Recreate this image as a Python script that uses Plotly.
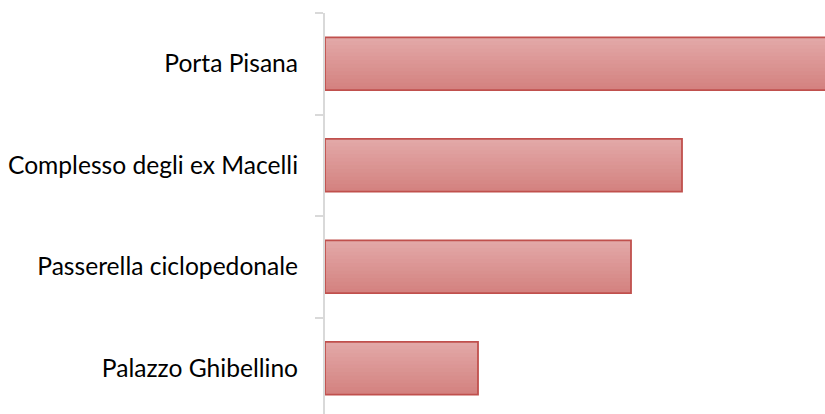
import plotly.graph_objects as go

# Monuments and their counts
categories = ["Porta Pisana", "Complesso degli ex Macelli", "Passerella ciclopedonale", "Palazzo Ghibellino"]
values = [10, 7, 6, 3]

# Vertical gradient stops for the bar fill (top -> bottom)
top_rgb = (226, 168, 167)
bottom_rgb = (212, 130, 128)
n_steps = 14
bar_width = 0.52

fig = go.Figure()

# Layered slices produce a soft top-to-bottom gradient inside each bar
for i in range(n_steps):
    t = i / (n_steps - 1)
    rgb = tuple(round(a + (b - a) * t) for a, b in zip(top_rgb, bottom_rgb))
    start = -bar_width / 2 + i * bar_width / n_steps
    fig.add_trace(go.Bar(
        x=values, y=categories, orientation="h",
        width=bar_width / 2 - start, offset=start,
        marker=dict(color="rgb(%d,%d,%d)" % rgb, line=dict(width=0)),
        hoverinfo="skip", showlegend=False,
    ))

# Outline of each bar
fig.add_trace(go.Bar(
    x=values, y=categories, orientation="h",
    width=bar_width, offset=-bar_width / 2,
    marker=dict(color="rgba(0,0,0,0)", line=dict(color="#c0504d", width=1.8)),
    showlegend=False,
))

W, H = 825, 414
left, top = 325, 13
band = 101.5
span = (H - top) / band

fig.update_layout(
    width=W, height=H,
    margin=dict(l=left, r=0, t=top, b=0),
    paper_bgcolor="white", plot_bgcolor="white",
    barmode="overlay",
    xaxis=dict(range=[0, (W - left) / 51.0], visible=False, showgrid=False, zeroline=False),
    yaxis=dict(
        type="category", categoryorder="array", categoryarray=categories,
        range=[span - 0.5, -0.5],
        showline=True, linecolor="#d9d9d9", linewidth=2,
        ticks="outside", ticklen=8, tickcolor="#d9d9d9", tickwidth=2,
        tickson="boundaries", showgrid=False, zeroline=False,
        ticklabelstandoff=20,
        tickfont=dict(family="Lato, Open Sans, sans-serif", size=24.6, color="#000000"),
    ),
)

fig.write_html("out.html")
